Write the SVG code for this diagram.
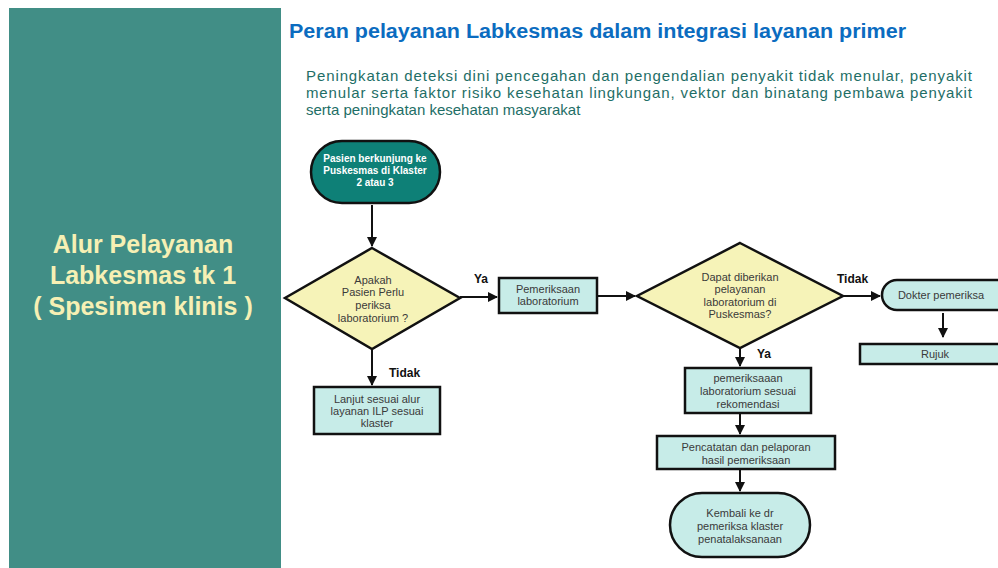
<svg xmlns="http://www.w3.org/2000/svg" width="998" height="568" viewBox="0 0 998 568">
<style>
.t{font-family:"Liberation Sans","DejaVu Sans",sans-serif}
.node{stroke:#111;stroke-width:2.5}
.box{fill:#C7ECE8}
.dia{fill:#F6F3B8}
.lbl{font-size:11px;fill:#3a3a3a;text-anchor:middle}
.edge{stroke:#111;stroke-width:2;fill:none;marker-end:url(#ah)}
.el{font-size:12px;font-weight:bold;fill:#111}
</style>
<defs>
<marker id="ah" viewBox="0 0 10 10" refX="9" refY="5" markerWidth="5" markerHeight="5" orient="auto" markerUnits="strokeWidth">
<path d="M0,0 L10,5 L0,10 z" fill="#111"/>
</marker>
</defs>
<rect width="998" height="568" fill="#fff"/>
<g id="sidebar">
<rect x="9" y="8" width="272" height="560" fill="#418E86"/>
<text class="t" x="143" y="253" font-size="25" font-weight="bold" fill="#F6F0B4" text-anchor="middle">Alur Pelayanan</text>
<text class="t" x="143" y="284" font-size="25" font-weight="bold" fill="#F6F0B4" text-anchor="middle">Labkesmas tk 1</text>
<text class="t" x="143" y="315" font-size="25" font-weight="bold" fill="#F6F0B4" text-anchor="middle">( Spesimen klinis )</text>
</g>
<g id="header">
<text class="t" x="289" y="38" font-size="20" font-weight="bold" fill="#0B6CC0" textLength="617" lengthAdjust="spacingAndGlyphs">Peran pelayanan Labkesmas dalam integrasi layanan primer</text>
<text class="t" x="306" y="81" font-size="15" fill="#1E6E66" textLength="666" lengthAdjust="spacing">Peningkatan deteksi dini pencegahan dan pengendalian penyakit tidak menular, penyakit</text>
<text class="t" x="306" y="98" font-size="15" fill="#1E6E66" textLength="666" lengthAdjust="spacing">menular serta faktor risiko kesehatan lingkungan, vektor dan binatang pembawa penyakit</text>
<text class="t" x="306" y="115" font-size="15" fill="#1E6E66">serta peningkatan kesehatan masyarakat</text>
</g>
<g id="connectors">
<line class="edge" x1="372" y1="205" x2="372" y2="246"/>
<line class="edge" x1="372" y1="349" x2="372" y2="385"/>
<line class="edge" x1="460" y1="297" x2="497" y2="297"/>
<line class="edge" x1="598" y1="296" x2="635" y2="296"/>
<line class="edge" x1="843" y1="296" x2="880" y2="296"/>
<line class="edge" x1="943" y1="313" x2="943" y2="337"/>
<line class="edge" x1="740" y1="348" x2="740" y2="366"/>
<line class="edge" x1="740" y1="414" x2="740" y2="434"/>
<line class="edge" x1="740" y1="470" x2="740" y2="491"/>
<text class="t el" x="474" y="283">Ya</text>
<text class="t el" x="389" y="377">Tidak</text>
<text class="t el" x="837" y="283">Tidak</text>
<text class="t el" x="757" y="358">Ya</text>
</g>
<g id="start">
<rect class="node" x="311" y="141" width="129" height="62" rx="31" fill="#0E8077"/>
<text class="t" x="375" y="162" font-size="10" font-weight="bold" fill="#fff" text-anchor="middle">Pasien berkunjung ke</text>
<text class="t" x="375" y="174" font-size="10" font-weight="bold" fill="#fff" text-anchor="middle">Puskesmas di Klaster</text>
<text class="t" x="375" y="186" font-size="10" font-weight="bold" fill="#fff" text-anchor="middle">2 atau 3</text>
</g>
<g id="decision1">
<polygon class="node dia" points="372,248 460,298 372,349 285,298"/>
<text class="t lbl" x="373" y="284">Apakah</text>
<text class="t lbl" x="373" y="296">Pasien Perlu</text>
<text class="t lbl" x="373" y="309">periksa</text>
<text class="t lbl" x="373" y="322">laboratorium ?</text>
</g>
<g id="lanjut">
<rect class="node box" x="314" y="387" width="126" height="47"/>
<text class="t lbl" x="377" y="403">Lanjut sesuai alur</text>
<text class="t lbl" x="377" y="415">layanan ILP sesuai</text>
<text class="t lbl" x="377" y="427">klaster</text>
</g>
<g id="pemeriksaan">
<rect class="node box" x="499" y="278" width="98" height="35"/>
<text class="t lbl" x="548" y="293">Pemeriksaan</text>
<text class="t lbl" x="548" y="305">laboratorium</text>
</g>
<g id="decision2">
<polygon class="node dia" points="740,243 843,296 740,348 637,296"/>
<text class="t lbl" x="740" y="281">Dapat diberikan</text>
<text class="t lbl" x="740" y="293">pelayanan</text>
<text class="t lbl" x="740" y="306">laboratorium di</text>
<text class="t lbl" x="740" y="318">Puskesmas?</text>
</g>
<g id="dokter">
<rect class="node box" x="882" y="280" width="140" height="30" rx="15"/>
<text class="t lbl" x="941" y="299">Dokter pemeriksa</text>
</g>
<g id="rujuk">
<rect class="node box" x="860" y="344" width="150" height="20"/>
<text class="t lbl" x="935" y="358">Rujuk</text>
</g>
<g id="pemeriksaan-sesuai">
<rect class="node box" x="685" y="368" width="126" height="45"/>
<text class="t lbl" x="748" y="382">pemeriksaaan</text>
<text class="t lbl" x="748" y="395">laboratorium sesuai</text>
<text class="t lbl" x="748" y="408">rekomendasi</text>
</g>
<g id="pencatatan">
<rect class="node box" x="657" y="436" width="178" height="33"/>
<text class="t lbl" x="746" y="451">Pencatatan dan pelaporan</text>
<text class="t lbl" x="746" y="464">hasil pemeriksaan</text>
</g>
<g id="kembali">
<rect class="node box" x="670" y="493" width="140" height="64" rx="32"/>
<text class="t lbl" x="740" y="517">Kembali ke dr</text>
<text class="t lbl" x="740" y="530">pemeriksa klaster</text>
<text class="t lbl" x="740" y="543">penatalaksanaan</text>
</g>
</svg>
